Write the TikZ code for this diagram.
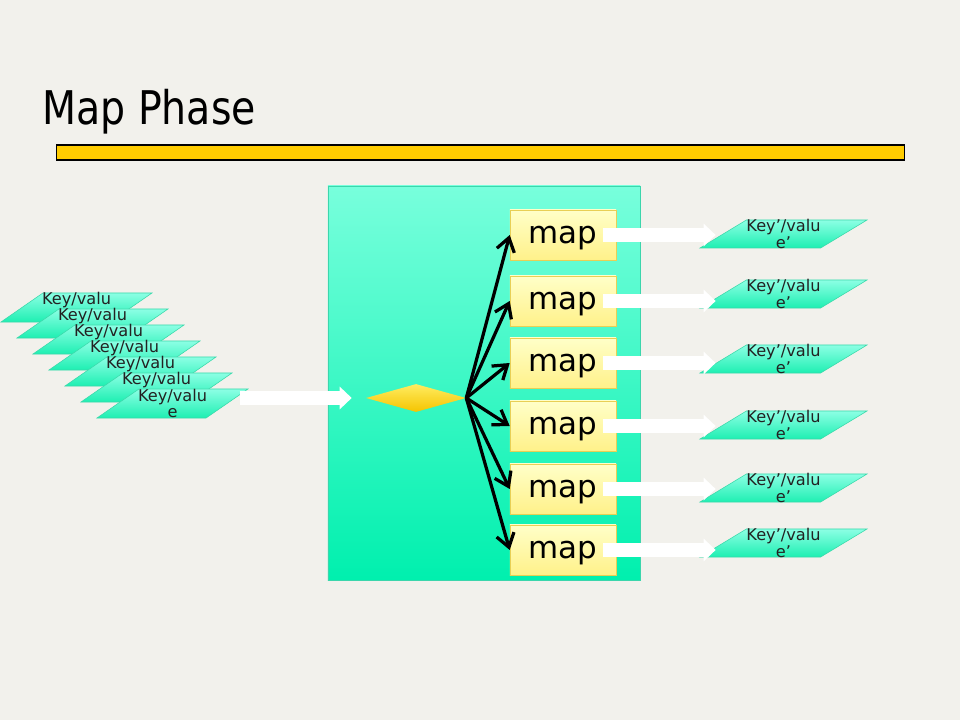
\documentclass[tikz,border=0pt]{standalone}
\usepackage{fontspec}
\setmainfont{DejaVu Sans}
\newfontfamily\titlefont[FakeStretch=0.85]{DejaVu Sans}
\usetikzlibrary{shapes.geometric,arrows.meta,calc}

\definecolor{slidebg}{HTML}{F2F1EC}
\definecolor{barYellow}{HTML}{FFCC00}
\definecolor{boxTop}{HTML}{78FFDC}
\definecolor{boxBot}{HTML}{00F0AE}
\definecolor{boxEdge}{HTML}{3CD6AC}
\definecolor{mapTop}{HTML}{FFFFC8}
\definecolor{mapBot}{HTML}{FFF18A}
\definecolor{mapEdge}{HTML}{E8CF55}
\definecolor{kvTop}{HTML}{8CFFE4}
\definecolor{kvBot}{HTML}{1EEFB2}
\definecolor{kvEdge}{HTML}{3AD9AA}
\definecolor{kvText}{HTML}{222222}
\definecolor{diaTop}{HTML}{FFEC60}
\definecolor{diaBot}{HTML}{F5C400}

\begin{document}
\begin{tikzpicture}[x=0.025cm, y=-0.025cm,
  mapbox/.style={draw=mapEdge, top color=mapTop, bottom color=mapBot,
    minimum width=2.65cm, minimum height=1.25cm, inner sep=0pt, text depth=0pt,
    font=\fontsize{22}{24}\selectfont},
  kvbox/.style={trapezium, trapezium left angle=58, trapezium right angle=122,
    trapezium stretches=true, draw=kvEdge, top color=kvTop, bottom color=kvBot,
    inner sep=1pt},
  kvtext/.style={align=center, text=kvText, inner sep=0pt,
    font=\fontsize{11.5}{11.5}\selectfont},
  fan/.style={line width=2.3pt, -{Straight Barb[length=0.33cm,width=0.45cm]}},
  whitearrow/.style={white, line width=0.35cm,
    -{Triangle[length=0.3cm,width=0.55cm]}}]

  \fill[slidebg] (0,0) rectangle (960,720);

  % title and bar
  \node[anchor=base west, inner sep=0pt,
    font=\titlefont\fontsize{33}{36}\selectfont] (title) at (42,125) {Map Phase};
  \node[draw=black, line width=0.8pt, fill=barYellow, inner sep=0pt,
    minimum width=21.175cm, minimum height=0.375cm] (bar) at (480.5,152.5) {};

  % mapper area
  \node[draw=boxEdge, top color=boxTop, bottom color=boxBot, inner sep=0pt,
    minimum width=7.8cm, minimum height=9.85cm] (mapper) at (484,383) {};
  \node[diamond, aspect=3.5, inner sep=1pt, minimum width=2.5cm,
    minimum height=0.7cm, top color=diaTop, bottom color=diaBot] (split) at (416,398) {};

  \foreach \i/\y in {1/235,2/301,3/363,4/426,5/489,6/550}
    \node[mapbox] (m\i) at (563,\y) {map};

  % input records, each one hides the tail of the one before
  \foreach \k in {0,...,6} {
    \node[kvbox, minimum width=3.775cm, minimum height=0.725cm]
      (in\k) at ({76.5+16*\k},{307.5+16*\k}) {};
    \ifnum\k<6
      \node[kvtext, anchor=north] (inl\k) at ($(in\k.center)+(0,-16)$) {Key/valu};
    \else
      \node[kvtext] (inl\k) at (in\k.center) {Key/valu\\e};
    \fi
  }

  % output records
  \foreach \i/\y in {1/234,2/294,3/359,4/425,5/488,6/543} {
    \node[kvbox, minimum width=4.175cm, minimum height=0.7cm] (o\i) at (783.5,\y) {};
    \node[kvtext] (ol\i) at (o\i.center) {Key’/valu\\e’};
  }

  % arrows
  \draw[whitearrow] ($(in6.east |- split.west)+(12,0)$) -- ($(split.west)+(-14,0)$);
  \foreach \i in {1,...,6} {
    \draw[fan] (split.east) -- (m\i.west);
    \draw[whitearrow] ($(m\i.east)+(-13,0)$) -- ($(m\i.east -| o\i.west)+(-7,0)$);
  }
\end{tikzpicture}
\end{document}
